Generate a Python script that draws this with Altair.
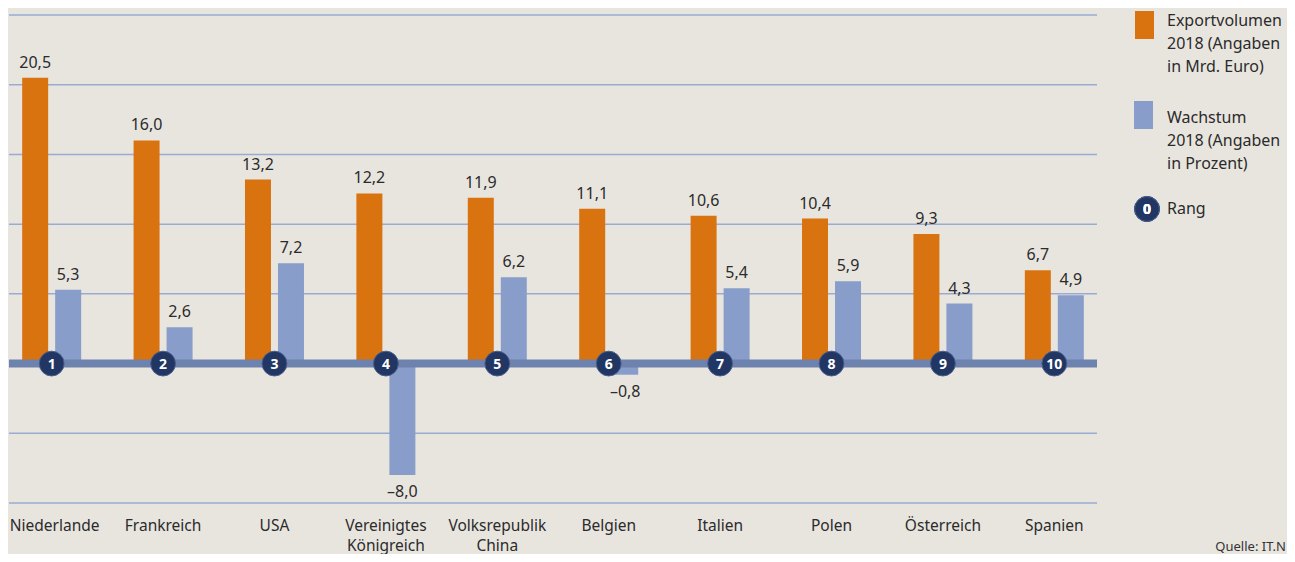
import altair as alt
import pandas as pd

countries = ["Niederlande", "Frankreich", "USA", "Vereinigtes Königreich",
             "Volksrepublik China", "Belgien", "Italien", "Polen",
             "Österreich", "Spanien"]
export_vol = [20.5, 16.0, 13.2, 12.2, 11.9, 11.1, 10.6, 10.4, 9.3, 6.7]
growth = [5.3, 2.6, 7.2, -8.0, 6.2, -0.8, 5.4, 5.9, 4.3, 4.9]
ranks = [1, 2, 3, 4, 5, 6, 7, 8, 9, 10]
grid_values = [-10, -5, 0, 5, 10, 15, 20, 25]

legend_texts = ["Exportvolumen\n2018 (Angaben\nin Mrd. Euro)",
                "Wachstum\n2018 (Angaben\nin Prozent)",
                "Rang"]
source_text = "Quelle: IT.N"

BG = "#e8e5df"
ORANGE = "#d9730f"
BLUE = "#889dca"
GRID = "#9aabd1"
ZERO = "#6e82ae"
NAVY = "#223663"
TXT = "#2b2b2b"
FONT = "Noto Sans"


def de(v):
    s = f"{v:.1f}".replace(".", ",")
    return s.replace("-", "–")


df = pd.DataFrame({
    "country": countries,
    "export": export_vol,
    "growth": growth,
    "rank": ranks,
    "export_label": [de(v) for v in export_vol],
    "growth_label": [de(v) for v in growth],
})

xenc = alt.X(
    "country:N", sort=countries,
    scale=alt.Scale(paddingInner=0.4, paddingOuter=0.083),
    axis=alt.Axis(title=None, domain=False, ticks=False, labelAngle=0,
                  labelExpr="split(datum.label, ' ')",
                  labelFont=FONT, labelFontSize=15.5, labelColor=TXT,
                  labelPadding=15, labelLineHeight=20, labelLimit=200,
                  labelOffset={"condition": {"test": "datum.value == 'Niederlande'",
                                             "value": 3},
                               "value": 0}),
)
yscale = alt.Scale(domain=[-10, 25], nice=False, zero=False)

base = alt.Chart(df)

grid = alt.Chart(pd.DataFrame({"g": grid_values})).mark_rule(
    color=GRID, strokeWidth=1.5
).encode(y=alt.Y("g:Q", scale=yscale, axis=None))

orange_bars = base.mark_bar(size=26, color=ORANGE, xOffset=-16.5).encode(
    x=xenc, y=alt.Y("export:Q", scale=yscale, axis=None))
blue_bars = base.mark_bar(size=26, color=BLUE, xOffset=16.5).encode(
    x=xenc, y=alt.Y("growth:Q", scale=yscale, axis=None))

zero_rule = alt.Chart(pd.DataFrame({"z": [0]})).mark_rule(
    color=ZERO, strokeWidth=8
).encode(y=alt.Y("z:Q", scale=yscale, axis=None))

label_props = dict(font=FONT, fontSize=16, color=TXT)
orange_lab = base.mark_text(baseline="bottom", dy=-7, xOffset=-16.5, **label_props).encode(
    x=xenc, y=alt.Y("export:Q", scale=yscale, axis=None), text="export_label:N")
blue_pos = base.transform_filter("datum.growth >= 0").mark_text(
    baseline="bottom", dy=-7, xOffset=16.5, **label_props).encode(
    x=xenc, y=alt.Y("growth:Q", scale=yscale, axis=None), text="growth_label:N")
blue_neg = base.transform_filter("datum.growth < 0").mark_text(
    baseline="top", dy=9, xOffset=16.5, **label_props).encode(
    x=xenc, y=alt.Y("growth:Q", scale=yscale, axis=None), text="growth_label:N")

circles = base.mark_circle(size=616, color=NAVY, opacity=1,
                           stroke="#4a5f8f", strokeWidth=1).encode(
    x=xenc, y=alt.datum(0, scale=yscale))
rank_txt = base.mark_text(font=FONT, fontSize=14, fontWeight="bold",
                          color="white", baseline="middle", dy=1).encode(
    x=xenc, y=alt.datum(0), text="rank:N")

# legend
leg = alt.Chart(pd.DataFrame({"t": legend_texts}))
leg_orange = leg.mark_rect(color=ORANGE).encode(
    x=alt.value(1126), x2=alt.value(1145), y=alt.value(-4), y2=alt.value(24))
leg_blue = leg.mark_rect(color=BLUE).encode(
    x=alt.value(1125), x2=alt.value(1144), y=alt.value(86), y2=alt.value(114))
leg_circle = leg.mark_circle(size=616, color=NAVY, opacity=1,
                             stroke="#4a5f8f", strokeWidth=1).encode(
    x=alt.value(1138), y=alt.value(194))
leg_zero = leg.mark_text(font=FONT, fontSize=14, fontWeight="bold",
                         color="white", baseline="middle", dy=1).encode(
    x=alt.value(1138), y=alt.value(194), text=alt.value("0"))

legend_ys = [11, 108, 199]
leg_texts = []
for t, yy in zip(legend_texts, legend_ys):
    leg_texts.append(
        alt.Chart(pd.DataFrame({"t": [t]})).mark_text(
            font=FONT, fontSize=16, color=TXT, align="left",
            baseline="alphabetic", lineBreak="\n", lineHeight=23
        ).encode(x=alt.value(1158), y=alt.value(yy), text="t:N")
    )

source = alt.Chart(pd.DataFrame({"t": [source_text]})).mark_text(
    font=FONT, fontSize=13, color="#333333", align="right",
    baseline="alphabetic"
).encode(x=alt.value(1277), y=alt.value(536), text="t:N")

chart = alt.layer(
    grid, orange_bars, blue_bars, zero_rule, orange_lab, blue_pos, blue_neg,
    circles, rank_txt, leg_orange, leg_blue, leg_circle, leg_zero,
    *leg_texts, source
).properties(
    width=1088, height=488,
    autosize=alt.AutoSizeParams(type="none"),
    padding={"left": 1, "top": 7, "right": 190, "bottom": 51},
).configure(background=BG).configure_view(stroke=None)

chart.save("out.html", embed_options={"renderer": "svg", "actions": False})
